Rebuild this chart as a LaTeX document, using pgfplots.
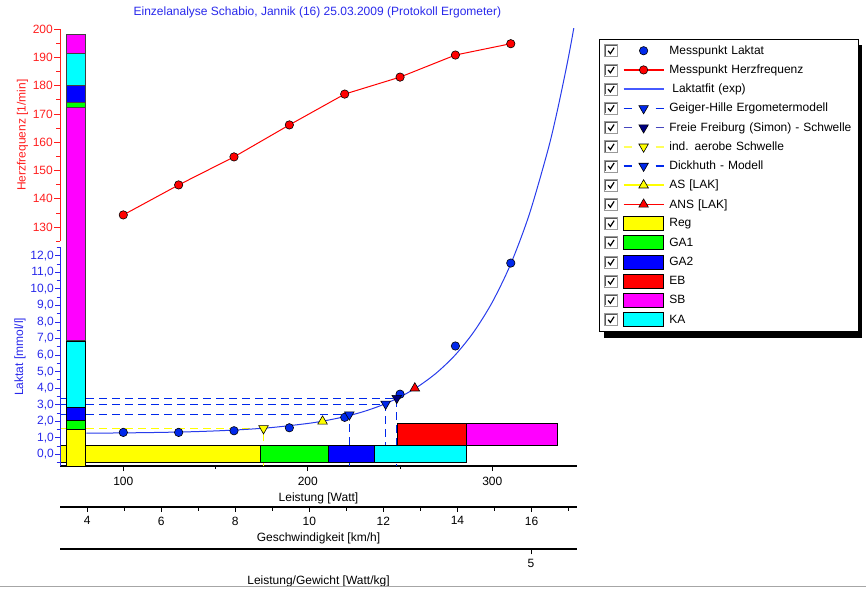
\documentclass[border=0pt]{standalone}
\usepackage{fontspec}
\setmainfont{Liberation Sans}
\usepackage{pgfplots}
\pgfplotsset{compat=1.18}

\definecolor{axblue}{RGB}{40,40,235}
\definecolor{fitblue}{RGB}{40,60,235}
\definecolor{legblue}{RGB}{70,90,255}
\definecolor{mblue}{RGB}{0,40,235}
\definecolor{navy}{RGB}{0,0,128}
\definecolor{slate}{RGB}{70,70,190}
\definecolor{ared}{RGB}{255,30,30}
\definecolor{zyellow}{RGB}{255,255,0}
\definecolor{pyellow}{RGB}{255,255,90}
\definecolor{zgreen}{RGB}{0,255,0}
\definecolor{zblue}{RGB}{0,0,255}
\definecolor{zred}{RGB}{255,0,0}
\definecolor{zmag}{RGB}{255,0,255}
\definecolor{zcyan}{RGB}{0,255,255}

\newcommand{\fs}{\fontsize{12}{14.4}\selectfont}
\newcommand{\cbox}{%
  \path[draw=none, fill=none] (0pt,-9.035pt) rectangle (59pt,9.035pt);
  \path[draw=none, fill=white] (0pt,-6pt) rectangle (13pt,6pt);
  \path[draw=black!40, fill=none, solid, line width=0.8pt] (0pt,-6pt) rectangle (13pt,6pt);
  \path[draw=black!65, fill=none, solid, line width=0.8pt] (1pt,-5pt) -- (1pt,5pt) -- (12pt,5pt);
  \path[draw=black, fill=none, solid, line width=1.2pt] (3.5pt,0pt) -- (5.8pt,-2.8pt) -- (9.5pt,3pt);
}

\pgfplotsset{
  base/.style={scale only axis, width=517pt, height=437pt, at={(60pt,124pt)}, anchor=south west, xmin=65.7, xmax=345.9},
  cbl/.style={legend image code/.code={\cbox\draw[mark repeat=2, mark phase=2, ##1] plot coordinates {(19pt,0pt) (39pt,0pt) (59pt,0pt)};}},
  cbd/.style={legend image code/.code={\cbox\draw[##1] (19pt,0pt) -- (27pt,0pt);\draw[##1] (51pt,0pt) -- (59pt,0pt);\draw[##1, only marks] plot coordinates {(39pt,0pt)};}},
  cbb/.style={legend image code/.code={\cbox\draw[##1] (19pt,-7pt) rectangle (59pt,7pt);}},
  every axis/.append style={tick label style={font=\fs}, label style={font=\fs}, /pgf/number format/assume math mode=true},
  thr/.style={line width=0.8pt, dash pattern=on 8pt off 5pt},
  zone/.style={fill=#1, draw=black, line width=0.8pt},
}

\begin{document}
\begin{tikzpicture}[x=1pt,y=1pt]
\useasboundingbox (0,0) rectangle (866,590);

% ---------- lactate data axis (with Watt axis) ----------
\begin{axis}[base, ymin=-0.7, ymax=25.70, hide y axis, axis x line*=bottom,
  x axis line style={-, line width=2pt},
  xtick={100,200,300}, minor xtick={150,250}, tick align=outside,
  major tick length=5pt, minor tick length=3pt, tick style={black, line width=0.8pt},
  xticklabel style={yshift=-2.5pt},
  xlabel={Leistung [Watt]}, xlabel style={at={(axis description cs:0.5,-0.0732)}, anchor=center}]
% threshold lines
\addplot[mblue, thr] coordinates {(65.7,2.4) (222.5,2.4) (222.5,-0.7)};
\addplot[mblue, thr] coordinates {(65.7,3.05) (242.2,3.05) (242.2,-0.7)};
\addplot[mblue, thr] coordinates {(65.7,3.4) (248.2,3.4) (248.2,-0.7)};
\addplot[zyellow, thr] coordinates {(65.7,1.57) (176,1.57) (176,-0.7)};
% training zones (power)
\addplot[zone=zyellow] coordinates {(65.7,-0.48) (174.1,-0.48) (174.1,0.54) (65.7,0.54)} -- cycle;
\addplot[zone=zgreen] coordinates {(174.1,-0.48) (211.1,-0.48) (211.1,0.54) (174.1,0.54)} -- cycle;
\addplot[zone=zblue] coordinates {(211.1,-0.48) (236.0,-0.48) (236.0,0.54) (211.1,0.54)} -- cycle;
\addplot[zone=zcyan] coordinates {(236.0,-0.48) (285.9,-0.48) (285.9,0.54) (236.0,0.54)} -- cycle;
\addplot[zone=zred] coordinates {(248.5,0.54) (285.9,0.54) (285.9,1.87) (248.5,1.87)} -- cycle;
\addplot[zone=zmag] coordinates {(285.9,0.54) (335.4,0.54) (335.4,1.87) (285.9,1.87)} -- cycle;
% zone stack (lactate part)
\addplot[zone=zyellow] coordinates {(69,-0.7) (79.6,-0.7) (79.6,1.51) (69,1.51)} -- cycle;
\addplot[zone=zgreen] coordinates {(69,1.51) (79.6,1.51) (79.6,2.05) (69,2.05)} -- cycle;
\addplot[zone=zblue] coordinates {(69,2.05) (79.6,2.05) (79.6,2.84) (69,2.84)} -- cycle;
\addplot[zone=zcyan] coordinates {(69,2.84) (79.6,2.84) (79.6,6.85) (69,6.85)} -- cycle;
% lactate fit
\addplot[fitblue, line width=1pt, smooth] coordinates {
 (80,1.28) (100,1.30) (120,1.33) (140,1.38) (160,1.47) (180,1.62) (200,1.87)
 (210,2.05) (220,2.28) (230,2.58) (240,2.97) (250,3.47) (260,4.12) (270,4.95)
 (280,6.02) (290,7.41) (300,9.20) (310,11.51) (320,14.49) (330,18.33) (335,20.65)
 (340,23.29) (343,25.03) (346,26.94)};
% lactate measurements
\addplot[only marks, mark=*, mark size=4.2pt, mark options={fill=mblue, draw=black, line width=0.6pt}] coordinates {
 (100,1.33) (130,1.33) (160,1.43) (190,1.61) (220,2.24) (250,3.64) (280,6.55) (310,11.56)};
% thresholds markers
\addplot[only marks, mark=triangle*, mark size=5.5pt, mark options={rotate=180, fill=mblue, draw=black, line width=0.6pt}] coordinates {(222.5,2.4) (242.2,3.05)};
\addplot[only marks, mark=triangle*, mark size=5.5pt, mark options={rotate=180, fill=navy, draw=black, line width=0.6pt}] coordinates {(248.2,3.4)};
\addplot[only marks, mark=triangle*, mark size=5.5pt, mark options={rotate=180, fill=zyellow, draw=black, line width=0.6pt}] coordinates {(176,1.57)};
\addplot[only marks, mark=triangle*, mark size=5.5pt, mark options={fill=zyellow, draw=black, line width=0.6pt}] coordinates {(208,2.0)};
\addplot[only marks, mark=triangle*, mark size=5.5pt, mark options={fill=zred, draw=black, line width=0.6pt}] coordinates {(258,4.0)};
\end{axis}

% ---------- heart rate data axis ----------
\begin{axis}[base, ymin=45.58, ymax=200, hide axis]
\addplot[fill=zmag, draw=black!75, line width=0.8pt] coordinates {(69,89.8) (79.6,89.8) (79.6,172.3) (69,172.3)} -- cycle;
\addplot[fill=zgreen, draw=black!75, line width=0.8pt] coordinates {(69,172.3) (79.6,172.3) (79.6,173.9) (69,173.9)} -- cycle;
\addplot[fill=zblue, draw=black!75, line width=0.8pt] coordinates {(69,173.9) (79.6,173.9) (79.6,180.1) (69,180.1)} -- cycle;
\addplot[fill=zcyan, draw=black!75, line width=0.8pt] coordinates {(69,180.1) (79.6,180.1) (79.6,191.4) (69,191.4)} -- cycle;
\addplot[fill=zmag, draw=black!75, line width=0.8pt] coordinates {(69,191.4) (79.6,191.4) (79.6,198.2) (69,198.2)} -- cycle;
\addplot[zred, line width=1pt, mark=*, mark size=4.2pt, mark options={fill=zred, draw=black, line width=0.6pt}] coordinates {
 (100,134.3) (130,144.9) (160,154.8) (190,166.1) (220,177.0) (250,183.0) (280,190.8) (310,194.8)};
\end{axis}

% ---------- heart rate tick axis ----------
\begin{axis}[scale only axis, width=517pt, height=212.3pt, at={(60pt,348.7pt)}, anchor=south west,
  xmin=0, xmax=1, ymin=125, ymax=200, hide x axis, axis y line*=left,
  y axis line style={-, ared, line width=1pt},
  ytick={130,140,...,200}, minor ytick={125,135,...,195}, tick align=outside,
  major tick length=6pt, minor tick length=4pt, tick style={ared, line width=0.8pt},
  yticklabel style={text=ared, inner xsep=1pt},
  ylabel={Herzfrequenz [1/min]}, ylabel style={text=ared, at={(axis description cs:-0.0725,0.5)}, anchor=center}]
\addplot[draw=none] coordinates {(0.5,150)};
\end{axis}

% ---------- lactate tick axis ----------
\begin{axis}[scale only axis, width=517pt, height=218.6pt, at={(60pt,124pt)}, anchor=south west,
  xmin=0, xmax=1, ymin=-0.7, ymax=12.5, hide x axis, axis y line*=left,
  y axis line style={-, axblue, line width=1pt},
  ytick={0,1,...,12}, minor ytick={-0.5,0.5,...,12.5}, tick align=outside,
  major tick length=5pt, minor tick length=3.5pt, tick style={axblue, line width=0.8pt},
  yticklabel style={text=axblue, inner xsep=1pt, /pgf/number format/.cd, fixed, fixed zerofill, precision=1, use comma},
  ylabel={Laktat [mmol/l]}, ylabel style={text=axblue, at={(axis description cs:-0.0774,0.5)}, anchor=center}]
\addplot[draw=none] coordinates {(0.5,5)};
\end{axis}

% ---------- speed axis ----------
\begin{axis}[scale only axis, width=517pt, height=10pt, at={(60pt,83.3pt)}, anchor=south west,
  xmin=3.265, xmax=17.229, ymin=0, ymax=1, hide y axis, axis x line*=bottom,
  x axis line style={-, line width=2pt},
  xtick={4,6,...,16}, minor xtick={5,7,...,17}, tick align=outside,
  major tick length=5pt, minor tick length=4pt, tick style={black, line width=0.8pt},
  xticklabel style={yshift=-1.5pt},
  xlabel={Geschwindigkeit [km/h]}, xlabel style={at={(axis description cs:0.5,-3.13)}, anchor=center}]
\addplot[draw=none] coordinates {(10,0.5)};
\end{axis}

% ---------- power/weight axis ----------
\begin{axis}[scale only axis, width=517pt, height=10pt, at={(60pt,40.7pt)}, anchor=south west,
  xmin=1.023, xmax=5.388, ymin=0, ymax=1, hide y axis, axis x line*=bottom,
  x axis line style={-, line width=2pt},
  xtick={5}, tick align=outside,
  major tick length=5pt, tick style={black, line width=0.8pt},
  xticklabel style={yshift=-1.5pt},
  xlabel={Leistung/Gewicht [Watt/kg]}, xlabel style={at={(axis description cs:0.5,-3.24)}, anchor=center}]
\addplot[draw=none] coordinates {(3,0.5)};
\end{axis}

% ---------- legend ----------
\fill[black] (604,251.9) rectangle (861.7,545);
\begin{axis}[base, hide axis, ymin=0, ymax=1,
  legend style={at={(axis description cs:1.04255,0.97712)}, anchor=north west, draw=black, fill=white,
    inner xsep=5pt, inner ysep=2.5pt, row sep=1.14pt, column sep=5pt, font=\fs,
    cells={anchor=west}, nodes={inner sep=0pt, text width=183.7pt}}]
\addplot[draw=none, forget plot] coordinates {(100,0.5)};
\addlegendimage{cbl, only marks, mark=*, mark size=4.2pt, mark options={fill=mblue, draw=black, line width=0.6pt}}
\addlegendentry{Messpunkt Laktat}
\addlegendimage{cbl, zred, line width=1.3pt, mark=*, mark size=4.2pt, mark options={fill=zred, draw=black, line width=0.6pt}}
\addlegendentry{Messpunkt Herzfrequenz}
\addlegendimage{cbl, legblue, line width=1.5pt}
\addlegendentry{\hspace*{3pt}Laktatfit (exp)}
\addlegendimage{cbd, mblue, line width=1.5pt, mark=triangle*, mark size=5.5pt, mark options={rotate=180, fill=mblue, draw=black, line width=0.6pt}}
\addlegendentry{Geiger-Hille Ergometermodell}
\addlegendimage{cbd, slate, line width=1.5pt, mark=triangle*, mark size=5.5pt, mark options={rotate=180, fill=navy, draw=black, line width=0.6pt}}
\addlegendentry{Freie Freiburg (Simon) - Schwelle}
\addlegendimage{cbd, pyellow, line width=1.5pt, mark=triangle*, mark size=5.5pt, mark options={rotate=180, fill=zyellow, draw=black, line width=0.6pt}}
\addlegendentry{ind. aerobe Schwelle}
\addlegendimage{cbd, mblue, line width=1.5pt, mark=triangle*, mark size=5.5pt, mark options={rotate=180, fill=mblue, draw=black, line width=0.6pt}}
\addlegendentry{Dickhuth - Modell}
\addlegendimage{cbl, zyellow, line width=1.5pt, mark=triangle*, mark size=5.5pt, mark options={fill=zyellow, draw=black, line width=0.6pt}}
\addlegendentry{AS [LAK]}
\addlegendimage{cbl, zred, line width=1.3pt, mark=triangle*, mark size=5.5pt, mark options={fill=zred, draw=black, line width=0.6pt}}
\addlegendentry{ANS [LAK]}
\addlegendimage{cbb, fill=zyellow, draw=black, line width=0.8pt}
\addlegendentry{Reg}
\addlegendimage{cbb, fill=zgreen, draw=black, line width=0.8pt}
\addlegendentry{GA1}
\addlegendimage{cbb, fill=zblue, draw=black, line width=0.8pt}
\addlegendentry{GA2}
\addlegendimage{cbb, fill=zred, draw=black, line width=0.8pt}
\addlegendentry{EB}
\addlegendimage{cbb, fill=zmag, draw=black, line width=0.8pt}
\addlegendentry{SB}
\addlegendimage{cbb, fill=zcyan, draw=black, line width=0.8pt}
\addlegendentry{KA}
\end{axis}

\node[text=axblue, font=\fs] at (317.4,578) {Einzelanalyse Schabio, Jannik (16) 25.03.2009 (Protokoll Ergometer)};
\draw[black!35, line width=1.5pt] (0,3.3) -- (866,3.3);
\end{tikzpicture}
\end{document}
